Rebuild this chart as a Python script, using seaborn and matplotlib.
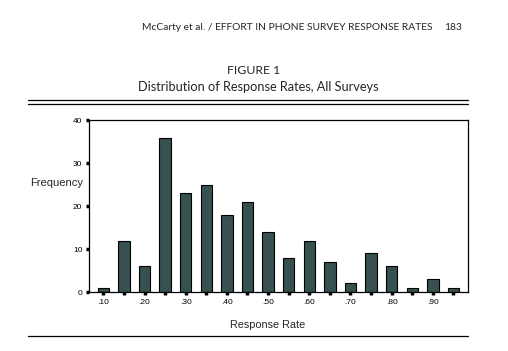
import numpy as np
import pandas as pd
import seaborn as sns
from matplotlib import pyplot as plt
from matplotlib.lines import Line2D

# response rate bins and survey counts
rates = [".10", ".15", ".20", ".25", ".30", ".35", ".40", ".45", ".50",
         ".55", ".60", ".65", ".70", ".75", ".80", ".85", ".90", ".95"]
counts = [1, 12, 6, 36, 23, 25, 18, 21, 14, 8, 12, 7, 2, 9, 6, 1, 3, 1]
shown_labels = [".10", ".20", ".30", ".40", ".50", ".60", ".70", ".80", ".90"]

df = pd.DataFrame({"rate": rates, "count": counts})

sns.set_style("white")
plt.rcParams["font.family"] = ["Liberation Sans", "DejaVu Sans"]

fig = plt.figure(figsize=(5.08, 3.51), dpi=100)
ax = fig.add_axes([0.175, 0.168, 0.746, 0.489])

sns.barplot(data=df, x="rate", y="count", color="#375050", saturation=1,
            width=0.55, edgecolor="black", linewidth=0.8, ax=ax)

ax.set_xlim(-0.7, 17.7)
ax.set_ylim(0, 40)
ax.set_yticks([0, 10, 20, 30, 40])
ax.set_xticks(range(len(rates)))
ax.set_xticklabels([r if r in shown_labels else "" for r in rates])
ax.tick_params(axis="both", direction="out", length=2.2, width=2.5,
               labelsize=6, pad=2.5, colors="black", bottom=True, left=True)
for s in ax.spines.values():
    s.set_color("black")
    s.set_linewidth(0.9)
ax.set_xlabel("")
ax.set_ylabel("")

fig.text(0.059, 0.479, "Frequency", fontsize=8, va="center", ha="left")
fig.text(0.526, 0.074, "Response Rate", fontsize=7.8, ha="center", va="center")

# page header / caption
hf = ["Lato", "DejaVu Sans"]
fig.text(0.279, 0.923, "McCarty et al. / EFFORT IN PHONE SURVEY RESPONSE RATES",
         fontsize=7.4, family=hf, va="center", ha="left")
fig.text(0.909, 0.923, "183", fontsize=7.4, family=hf, va="center", ha="right")
fig.text(0.5, 0.80, "FIGURE 1", fontsize=8.8, family=hf, va="center", ha="center")
fig.text(0.508, 0.752, "Distribution of Response Rates, All Surveys", fontsize=9.2,
         family=hf, va="center", ha="center")

for y in [0.714, 0.704, 0.043]:
    fig.add_artist(Line2D([0.056, 0.921], [y, y], color="black", linewidth=0.9))

plt.savefig("out.png", dpi=100)
